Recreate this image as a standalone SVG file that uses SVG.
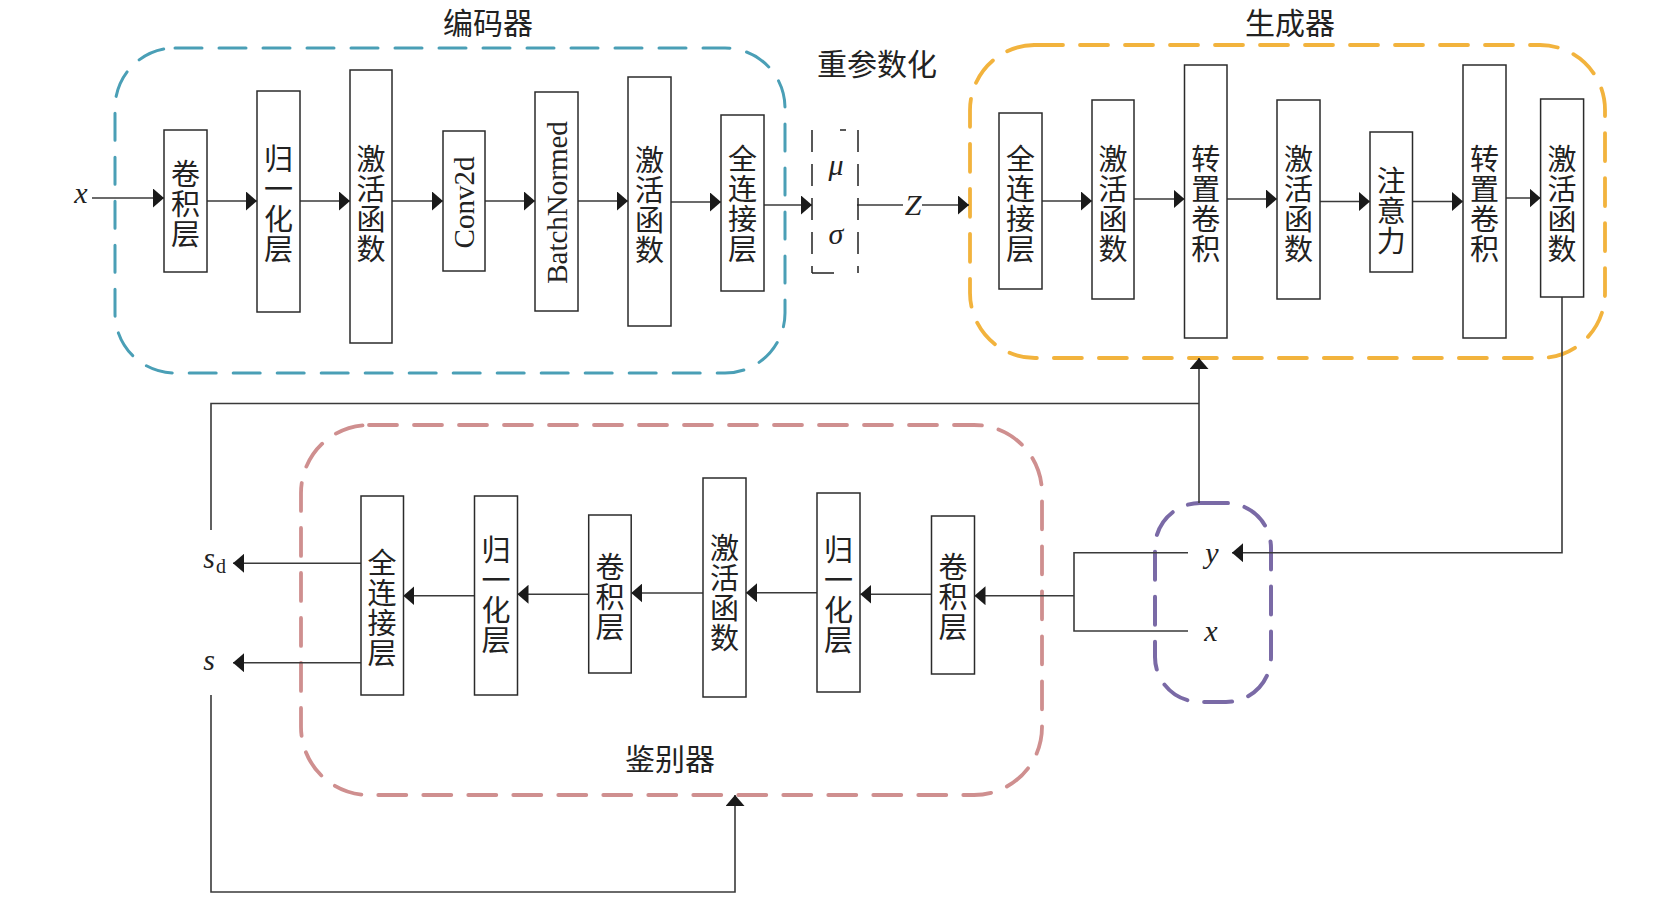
<svg xmlns="http://www.w3.org/2000/svg" width="1656" height="909" viewBox="0 0 1656 909">
<defs>
<marker id="ah" viewBox="0 0 11 19" refX="11" refY="9.5" markerWidth="11" markerHeight="19" markerUnits="userSpaceOnUse" orient="auto">
<path d="M0,0 L11,9.5 L0,19 z" fill="#1a1a1a"/>
</marker>
<style>
.box{fill:#fff;stroke:#2b2b2b;stroke-width:1.5}
.cn{font-family:"Noto Sans CJK SC","Noto Sans CJK JP",sans-serif;font-size:29px;fill:#222;text-anchor:middle;dominant-baseline:central}
.ttl{font-family:"Noto Sans CJK SC","Noto Sans CJK JP",sans-serif;font-size:30px;fill:#222;text-anchor:middle;dominant-baseline:central}
.en{font-family:"Liberation Serif",serif;font-size:29px;fill:#222;text-anchor:middle;dominant-baseline:central}
.it{font-family:"Liberation Serif",serif;font-style:italic;font-size:30px;fill:#222;text-anchor:middle}
.sub{font-family:"Liberation Serif",serif;font-size:20px;fill:#222}
.ln{fill:none;stroke:#3a3a3a;stroke-width:1.6}
.arr{marker-end:url(#ah)}
.grp{fill:none;stroke-linecap:round}
</style>
</defs>
<rect width="1656" height="909" fill="#fff"/>

<g id="groups">
<rect id="encoder-frame" class="grp" x="115" y="48" width="670" height="325" rx="60" ry="60" stroke="#4a9fb6" stroke-width="3" stroke-dasharray="27 17"/>
<rect id="generator-frame" class="grp" x="970" y="45" width="635" height="313" rx="65" ry="65" stroke="#f2b33d" stroke-width="3.8" stroke-dasharray="28 17"/>
<rect id="discriminator-frame" class="grp" x="301" y="425" width="741" height="370" rx="68" ry="68" stroke="#cf8f8f" stroke-width="3.8" stroke-dasharray="28 17"/>
<rect id="input-frame" class="grp" x="1155" y="503" width="116" height="199" rx="45" ry="45" stroke="#7a6aa6" stroke-width="4" stroke-dasharray="28 17"/>
<text class="ttl" x="488" y="21">编码器</text>
<text class="ttl" x="1290" y="21">生成器</text>
<text class="ttl" x="670" y="757">鉴别器</text>
<text class="ttl" x="877" y="62">重参数化</text>
</g>

<g id="connectors">
<path class="ln arr" d="M92,198 H164"/>
<path class="ln arr" d="M207,201 H257"/>
<path class="ln arr" d="M300,201 H350"/>
<path class="ln arr" d="M392,201 H443"/>
<path class="ln arr" d="M485,201 H535"/>
<path class="ln arr" d="M578,201 H628"/>
<path class="ln arr" d="M671,202 H721"/>
<path class="ln arr" d="M764,205 H812"/>
<path class="ln" d="M857,205 H903"/>
<path class="ln arr" d="M922,205 H969"/>
<path class="ln arr" d="M1042,201 H1092"/>
<path class="ln arr" d="M1134,199 H1184.5"/>
<path class="ln arr" d="M1227,199 H1277"/>
<path class="ln arr" d="M1320,201.5 H1370"/>
<path class="ln arr" d="M1413,201.5 H1463"/>
<path class="ln arr" d="M1506,198 H1540.6"/>
<path class="ln arr" d="M1562,297 V552.7 H1232"/>
<path class="ln" d="M1188,552.7 H1074 V631 H1188"/>
<path class="ln arr" d="M1074,595.7 H974.5"/>
<path class="ln arr" d="M931.5,594.3 H860.3"/>
<path class="ln arr" d="M817,592.7 H746"/>
<path class="ln arr" d="M703,593 H631.2"/>
<path class="ln arr" d="M588.7,594.3 H517.5"/>
<path class="ln arr" d="M474.5,595.7 H403.3"/>
<path class="ln arr" d="M361,563.3 H233"/>
<path class="ln arr" d="M361,662.7 H233"/>
<path class="ln" d="M211,530 V403.5 H1199"/>
<path class="ln arr" d="M1199,503 V358"/>
<path class="ln arr" d="M211,695 V892 H735 V795"/>
</g>

<g id="reparam">
<path d="M812,130 V273 M812,273 H836 M858,130 V273" fill="none" stroke="#222" stroke-width="1.5" stroke-dasharray="22 12"/>
<path d="M840,130 H846" fill="none" stroke="#222" stroke-width="1.5"/>
<text class="it" x="836" y="175" font-size="28">μ</text>
<text class="it" x="836" y="244" font-size="28">σ</text>
<text class="it" x="913" y="215" font-size="27">Z</text>
</g>

<g id="labels">
<text class="it" x="81" y="203">x</text>
<text class="it" x="1212" y="563">y</text>
<text class="it" x="1211" y="641">x</text>
<text class="it" x="209" y="568" font-size="28">s</text>
<text class="sub" x="216" y="573">d</text>
<text class="it" x="209" y="670" font-size="28">s</text>
</g>

<g id="enc-conv">
<rect class="box" x="164" y="130" width="43" height="142"/>
<text class="cn"><tspan x="185.5" y="172">卷</tspan><tspan x="185.5" y="202">积</tspan><tspan x="185.5" y="232">层</tspan></text>
</g>
<g id="enc-norm">
<rect class="box" x="257" y="91" width="43" height="221"/>
<text class="cn"><tspan x="278.5" y="157">归</tspan><tspan x="278.5" y="187">一</tspan><tspan x="278.5" y="217">化</tspan><tspan x="278.5" y="247">层</tspan></text>
</g>
<g id="enc-act1">
<rect class="box" x="350" y="70" width="42" height="273"/>
<text class="cn"><tspan x="371" y="157">激</tspan><tspan x="371" y="187">活</tspan><tspan x="371" y="217">函</tspan><tspan x="371" y="247">数</tspan></text>
</g>
<g id="enc-conv2d">
<rect class="box" x="443" y="131" width="42" height="140"/>
<text class="en" transform="translate(464,202.5) rotate(-90)" x="0" y="0">Conv2d</text>
</g>
<g id="enc-bn">
<rect class="box" x="535" y="92" width="43" height="219"/>
<text class="en" transform="translate(556.5,202.5) rotate(-90)" x="0" y="0">BatchNormed</text>
</g>
<g id="enc-act2">
<rect class="box" x="628" y="77" width="43" height="249"/>
<text class="cn"><tspan x="649.5" y="158">激</tspan><tspan x="649.5" y="188">活</tspan><tspan x="649.5" y="218">函</tspan><tspan x="649.5" y="248">数</tspan></text>
</g>
<g id="enc-fc">
<rect class="box" x="721" y="115" width="43" height="176"/>
<text class="cn"><tspan x="742.5" y="157">全</tspan><tspan x="742.5" y="187">连</tspan><tspan x="742.5" y="217">接</tspan><tspan x="742.5" y="247">层</tspan></text>
</g>

<g id="gen-fc">
<rect class="box" x="999" y="113" width="43" height="176"/>
<text class="cn"><tspan x="1020.5" y="157">全</tspan><tspan x="1020.5" y="187">连</tspan><tspan x="1020.5" y="217">接</tspan><tspan x="1020.5" y="247">层</tspan></text>
</g>
<g id="gen-act1">
<rect class="box" x="1092" y="100" width="42" height="199"/>
<text class="cn"><tspan x="1113" y="157">激</tspan><tspan x="1113" y="187">活</tspan><tspan x="1113" y="217">函</tspan><tspan x="1113" y="247">数</tspan></text>
</g>
<g id="gen-tconv1">
<rect class="box" x="1184.5" y="65" width="42.5" height="273"/>
<text class="cn"><tspan x="1205.7" y="157">转</tspan><tspan x="1205.7" y="187">置</tspan><tspan x="1205.7" y="217">卷</tspan><tspan x="1205.7" y="247">积</tspan></text>
</g>
<g id="gen-act2">
<rect class="box" x="1277" y="100" width="43" height="199"/>
<text class="cn"><tspan x="1298.5" y="157">激</tspan><tspan x="1298.5" y="187">活</tspan><tspan x="1298.5" y="217">函</tspan><tspan x="1298.5" y="247">数</tspan></text>
</g>
<g id="gen-attn">
<rect class="box" x="1370" y="132" width="42.5" height="140"/>
<text class="cn"><tspan x="1391.3" y="179">注</tspan><tspan x="1391.3" y="209">意</tspan><tspan x="1391.3" y="239">力</tspan></text>
</g>
<g id="gen-tconv2">
<rect class="box" x="1463" y="65" width="43" height="273"/>
<text class="cn"><tspan x="1484.5" y="157">转</tspan><tspan x="1484.5" y="187">置</tspan><tspan x="1484.5" y="217">卷</tspan><tspan x="1484.5" y="247">积</tspan></text>
</g>
<g id="gen-act3">
<rect class="box" x="1540.6" y="99" width="43" height="198"/>
<text class="cn"><tspan x="1562" y="157">激</tspan><tspan x="1562" y="187">活</tspan><tspan x="1562" y="217">函</tspan><tspan x="1562" y="247">数</tspan></text>
</g>

<g id="dis-fc">
<rect class="box" x="361" y="496" width="42.5" height="199"/>
<text class="cn"><tspan x="382" y="561">全</tspan><tspan x="382" y="591">连</tspan><tspan x="382" y="621">接</tspan><tspan x="382" y="651">层</tspan></text>
</g>
<g id="dis-norm1">
<rect class="box" x="474.5" y="496" width="43" height="199"/>
<text class="cn"><tspan x="496" y="548">归</tspan><tspan x="496" y="578">一</tspan><tspan x="496" y="608">化</tspan><tspan x="496" y="638">层</tspan></text>
</g>
<g id="dis-conv1">
<rect class="box" x="588.7" y="515" width="42.5" height="158"/>
<text class="cn"><tspan x="610" y="565">卷</tspan><tspan x="610" y="595">积</tspan><tspan x="610" y="625">层</tspan></text>
</g>
<g id="dis-act">
<rect class="box" x="703" y="478" width="43" height="219"/>
<text class="cn"><tspan x="724.5" y="546">激</tspan><tspan x="724.5" y="576">活</tspan><tspan x="724.5" y="606">函</tspan><tspan x="724.5" y="636">数</tspan></text>
</g>
<g id="dis-norm2">
<rect class="box" x="817" y="493" width="43" height="199"/>
<text class="cn"><tspan x="838.5" y="548">归</tspan><tspan x="838.5" y="578">一</tspan><tspan x="838.5" y="608">化</tspan><tspan x="838.5" y="638">层</tspan></text>
</g>
<g id="dis-conv2">
<rect class="box" x="931.5" y="516" width="43" height="158"/>
<text class="cn"><tspan x="953" y="565">卷</tspan><tspan x="953" y="595">积</tspan><tspan x="953" y="625">层</tspan></text>
</g>
</svg>
